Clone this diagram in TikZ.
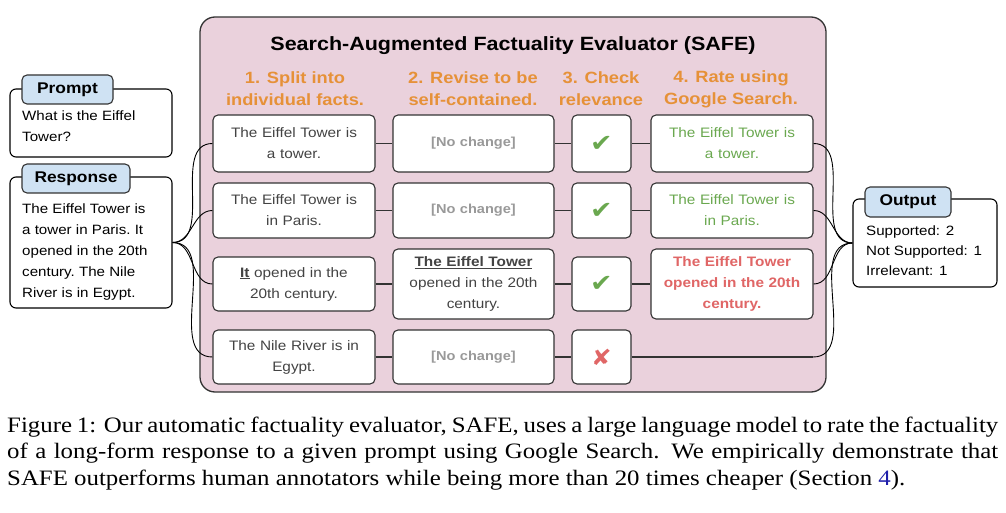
\documentclass[tikz,border=0pt]{standalone}
\usepackage{fontspec}
\setmainfont{Liberation Serif}[FakeStretch=1.13]
\setsansfont{Liberation Sans}[FakeStretch=1.12]
\newfontfamily\symbolfont{DejaVu Sans}[FakeStretch=1.12]
\usepackage{tikz}

\definecolor{safepink}{RGB}{234,209,220}
\definecolor{tabblue}{RGB}{207,226,243}
\definecolor{steporange}{RGB}{230,145,56}
\definecolor{okgreen}{RGB}{106,168,79}
\definecolor{badred}{RGB}{224,102,102}
\definecolor{nochange}{RGB}{153,153,153}
\definecolor{boxtext}{RGB}{67,67,67}
\definecolor{boxline}{RGB}{51,51,51}
\definecolor{linkblue}{RGB}{30,30,170}

\newcommand{\fsz}[2]{\fontsize{#1}{#2}\selectfont}

\tikzset{
  safebox/.style={draw=boxline, fill=safepink, rounded corners=15pt, line width=1.3pt},
  factbox/.style={draw=boxline, fill=white, rounded corners=5pt, line width=1.1pt, align=center, inner sep=2pt, font=\sffamily\fsz{13.7}{21}, text=boxtext},
  wide/.style={minimum width=162pt, text width=156pt},
  narrow/.style={minimum width=59pt},
  tabbox/.style={draw=boxline, fill=tabblue, rounded corners=5pt, line width=1.1pt, inner sep=0pt, font=\sffamily\bfseries\fsz{15.5}{18}},
  iobox/.style={draw=black, fill=white, rounded corners=6pt, line width=1.1pt, inner sep=0pt},
  iotext/.style={align=left, inner sep=0pt, font=\sffamily\frenchspacing\fsz{13.5}{21}},
  steplabel/.style={align=center, font=\sffamily\bfseries\fsz{16.3}{22}, text=steporange},
  wire/.style={draw=black, line width=0.9pt},
  link/.style={draw=boxline, line width=1.3pt},
}

\newcommand{\okmark}{{\symbolfont\fsz{24}{24}\color{okgreen}✔}}
\newcommand{\badmark}{{\symbolfont\fsz{22}{22}\color{badred}✘}}
\newcommand{\nochg}{{\color{nochange}\bfseries\fsz{13}{21}[No change]}}

\begin{document}
\begin{tikzpicture}[x=1pt,y=-1pt]
  \useasboundingbox (0,0) rectangle (1006,513);

  % SAFE panel
  \node[safebox, minimum width=626pt, minimum height=375pt] (safe) at (513,204.5) {};
  \node[font=\sffamily\bfseries\fsz{19.2}{22}] (title) at (513,46) {Search-Augmented Factuality Evaluator (SAFE)};

  \node[steplabel] (head1) at (295,89) {1. Split into\\individual facts.};
  \node[steplabel] (head2) at (473,89) {2. Revise to be\\self-contained.};
  \node[steplabel] (head3) at (601,89) {3. Check\\relevance};
  \node[steplabel] (head4) at (731,89) {4. Rate using\\Google Search.};

  % step 1
  \node[factbox, wide, minimum height=57pt] (fact1) at (294,143.5) {The Eiffel Tower is\\a tower.};
  \node[factbox, wide, minimum height=55pt] (fact2) at (294,210.5) {The Eiffel Tower is\\in Paris.};
  \node[factbox, wide, minimum height=54pt] (fact3) at (294,284) {\underline{\textbf{It}} opened in the\\20th century.};
  \node[factbox, wide, minimum height=54pt] (fact4) at (294,357) {The Nile River is in\\Egypt.};

  % step 2
  \node[factbox, wide, minimum width=161pt, minimum height=57pt] (rev1) at (473.5,143.5) {\nochg};
  \node[factbox, wide, minimum width=161pt, minimum height=55pt] (rev2) at (473.5,210.5) {\nochg};
  \node[factbox, wide, minimum width=161pt, minimum height=70pt] (rev3) at (473.5,284) {\underline{\textbf{The Eiffel Tower}}\\opened in the 20th\\century.};
  \node[factbox, wide, minimum width=161pt, minimum height=54pt] (rev4) at (473.5,357) {\nochg};

  % step 3
  \node[factbox, narrow, minimum height=57pt] (chk1) at (601.5,143.5) {\okmark};
  \node[factbox, narrow, minimum height=55pt] (chk2) at (601.5,210.5) {\okmark};
  \node[factbox, narrow, minimum height=54pt] (chk3) at (601.5,284) {\okmark};
  \node[factbox, narrow, minimum height=54pt] (chk4) at (601.5,357) {\badmark};

  % step 4
  \node[factbox, wide, minimum height=57pt, text=okgreen] (rate1) at (732,143.5) {The Eiffel Tower is\\a tower.};
  \node[factbox, wide, minimum height=55pt, text=okgreen] (rate2) at (732,210.5) {The Eiffel Tower is\\in Paris.};
  \node[factbox, wide, minimum height=70pt, text=badred, font=\sffamily\bfseries\fsz{13.7}{21}] (rate3) at (732,284) {The Eiffel Tower\\opened in the 20th\\century.};
  \coordinate (end4) at (813,357);

  \draw[link] (fact1) -- (rev1) (rev1) -- (chk1) (chk1) -- (rate1);
  \draw[link] (fact2) -- (rev2) (rev2) -- (chk2) (chk2) -- (rate2);
  \draw[link] (fact3) -- (rev3) (rev3) -- (chk3) (chk3) -- (rate3);
  \draw[link] (fact4) -- (rev4) (rev4) -- (chk4);

  % prompt, response, output
  \node[iobox, minimum width=162pt, minimum height=68pt] (prompt) at (91,123) {};
  \node[tabbox, minimum width=91pt, minimum height=29pt] (prompttab) at (67.5,89.5) {Prompt};
  \node[iotext, anchor=north west] (prompttext) at (22,111) {What is the Eiffel\\Tower?};

  \node[iobox, minimum width=162pt, minimum height=131pt] (response) at (91,242.5) {};
  \node[tabbox, minimum width=108pt, minimum height=29pt] (responsetab) at (76,178.5) {Response};
  \node[iotext, anchor=north west] (responsetext) at (22,204) {The Eiffel Tower is\\a tower in Paris. It\\opened in the 20th\\century. The Nile\\River is in Egypt.};

  \node[iobox, minimum width=144pt, minimum height=88pt] (output) at (925,243) {};
  \node[tabbox, minimum width=86pt, minimum height=30pt] (outputtab) at (908,202) {Output};
  \node[iotext, anchor=north west, font=\sffamily\fsz{13.5}{20}] (outputtext) at (866,226) {Supported: 2\\Not Supported: 1\\Irrelevant: 1};

  \draw[wire] (response.east) to[out=0,in=180] (fact1.west);
  \draw[wire] (response.east) to[out=0,in=180] (fact2.west);
  \draw[wire] (response.east) to[out=0,in=180] (fact3.west);
  \draw[wire] (response.east) to[out=0,in=180] (fact4.west);

  \draw[wire] (rate1.east) to[out=0,in=180] (output.west);
  \draw[wire] (rate2.east) to[out=0,in=180] (output.west);
  \draw[wire] (rate3.east) to[out=0,in=180] (output.west);
  \draw[link] (chk4.east) -- (end4);
  \draw[wire] (end4) to[out=0,in=180] (output.west);

  % caption
  \node[anchor=north west, inner sep=0pt, text width=991pt, align=justify, font=\fsz{22}{26.5}] (caption) at (7,416.5)
    {Figure 1: Our automatic factuality evaluator, SAFE, uses a large language model to rate the factuality\linebreak
     of a long-form response to a given prompt using Google Search. We empirically demonstrate that\linebreak
     SAFE outperforms human annotators while being more than 20 times cheaper (Section~{\color{linkblue}4}).};
\end{tikzpicture}
\end{document}
